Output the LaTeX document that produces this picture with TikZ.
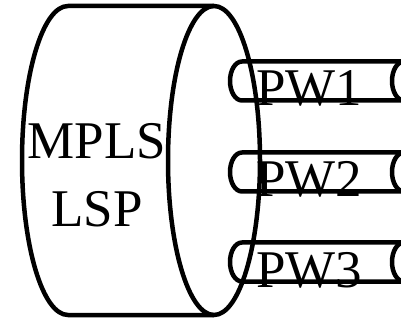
\documentclass[tikz,border=0pt]{standalone}
\usepackage{fontspec}
\setmainfont{Liberation Serif}
\tikzstyle{Outline} = [draw=black,
                       line width=4.5pt,
                       line join=round]
\tikzstyle{Label} = [inner sep=0pt,
                     font=\fontsize{53}{68}\selectfont]

\begin{document}
\begin{tikzpicture}[x=1pt, y=1pt]

    \useasboundingbox (0, 0) rectangle (401, 321);
    \clip (0, 0) rectangle (401, 321);

    % LSP cylinder
    \draw [Outline] (214, 315) -- (68, 315) arc [start angle=90, end angle=270, x radius=46, y radius=154.5] -- (214, 6);
    \draw [Outline] (214, 160.5) ellipse [x radius=46, y radius=154.5];
    \node (lsp) at (97, 146) [Label, align=center]{MPLS\\LSP};

    % Pseudowire pipes
    \draw [Outline] (404, 259.5) -- (242, 259.5) arc [start angle=90, end angle=270, x radius=12, y radius=19.5] -- (404, 220.5);
    \draw [Outline] (404, 240) ellipse [x radius=12, y radius=19.5];
    \node (pw1) at (256, 215) [Label, anchor=base west]{PW1};

    \draw [Outline] (404, 168.5) -- (242, 168.5) arc [start angle=90, end angle=270, x radius=12, y radius=19.5] -- (404, 129.5);
    \draw [Outline] (404, 149) ellipse [x radius=12, y radius=19.5];
    \node (pw2) at (256, 124) [Label, anchor=base west]{PW2};

    \draw [Outline] (404, 78.5) -- (242, 78.5) arc [start angle=90, end angle=270, x radius=12, y radius=19.5] -- (404, 39.5);
    \draw [Outline] (404, 59) ellipse [x radius=12, y radius=19.5];
    \node (pw3) at (256, 34) [Label, anchor=base west]{PW3};

\end{tikzpicture}
\end{document}
